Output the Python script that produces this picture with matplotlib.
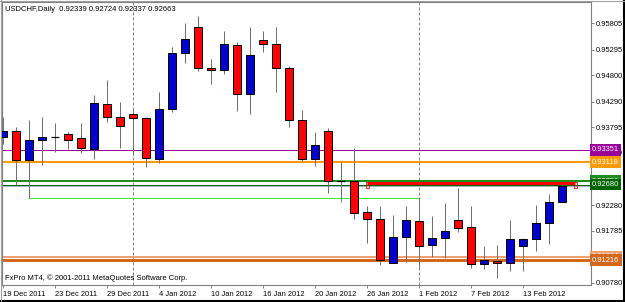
import matplotlib
matplotlib.use('Agg')
import matplotlib.pyplot as plt
from matplotlib.lines import Line2D
from matplotlib.patches import Rectangle

plt.rcParams['font.family'] = ['Liberation Sans', 'DejaVu Sans']

# USDCHF daily bars, 19 Dec 2011 .. 16 Feb 2012
opens = [0.93603, 0.93719, 0.93157, 0.93545, 0.93600, 0.93661, 0.93583, 0.93371,
         0.94242, 0.93990, 0.94048, 0.93971, 0.93176, 0.94145, 0.95230, 0.95733,
         0.94939, 0.94900, 0.95385, 0.94435, 0.95482, 0.95405, 0.94939, 0.93932,
         0.93176, 0.93719, 0.92750, 0.92750, 0.92150, 0.92014, 0.91162, 0.91666,
         0.91975, 0.91511, 0.91646, 0.91994, 0.91859, 0.91142, 0.91201, 0.91162,
         0.91491, 0.91627, 0.91937, 0.92339]
highs = [0.93990, 0.93797, 0.93932, 0.93990, 0.93874, 0.93700, 0.93874, 0.94416,
         0.94707, 0.94281, 0.94145, 0.93990, 0.94474, 0.95346, 0.95811, 0.95946,
         0.95114, 0.95656, 0.95444, 0.95733, 0.95656, 0.95733, 0.94978, 0.94126,
         0.93700, 0.93777, 0.93118, 0.93390, 0.92266, 0.92266, 0.92092, 0.92266,
         0.92440, 0.92072, 0.92324, 0.92615, 0.92266, 0.91491, 0.91511, 0.91994,
         0.91640, 0.92285, 0.92499, 0.92724]
lows = [0.93467, 0.92673, 0.92415, 0.93060, 0.93312, 0.93371, 0.93293, 0.93176,
        0.93894, 0.93390, 0.93254, 0.93022, 0.93099, 0.94087, 0.95036, 0.94881,
        0.94629, 0.94823, 0.94106, 0.94048, 0.95249, 0.94474, 0.93797, 0.93138,
        0.93041, 0.92518, 0.92344, 0.92014, 0.91549, 0.91123, 0.91162, 0.91181,
        0.91084, 0.91278, 0.91259, 0.91763, 0.91065, 0.91046, 0.90872, 0.91007,
        0.91007, 0.91395, 0.91530, 0.92337]
closes = [0.93719, 0.93157, 0.93545, 0.93603, 0.93600, 0.93545, 0.93390, 0.94261,
          0.93990, 0.93816, 0.93971, 0.93196, 0.94145, 0.95230, 0.95501, 0.94939,
          0.94900, 0.95405, 0.94435, 0.95191, 0.95405, 0.94939, 0.93932, 0.93176,
          0.93448, 0.92750, 0.92750, 0.92130, 0.92014, 0.91220, 0.91666, 0.91994,
          0.91491, 0.91646, 0.91782, 0.91840, 0.91142, 0.91220, 0.91162, 0.91627,
          0.91627, 0.91937, 0.92344, 0.92663]

date_labels = ['19 Dec 2011', '23 Dec 2011', '29 Dec 2011', '4 Jan 2012', '10 Jan 2012',
               '16 Jan 2012', '20 Jan 2012', '26 Jan 2012', '1 Feb 2012', '7 Feb 2012',
               '13 Feb 2012']
month_start_bars = [10, 32]   # 2 Jan 2012, 1 Feb 2012

price_ticks = [0.95805, 0.95295, 0.94800, 0.94290, 0.93795, 0.93300, 0.92790,
               0.92280, 0.91785, 0.91290, 0.90780]
hidden_ticks = [0.92790, 0.91290]  # covered by level labels

# horizontal levels drawn on the chart: (price, colour, width in px)
levels = [(0.93351, '#990099', 1), (0.93118, '#FF9900', 2),
          (0.92750, '#1E8C1E', 2), (0.92680, '#006400', 1),
          (0.91284, '#F0A070', 2), (0.91216, '#D2691E', 3)]
red_level = 0.92720
red_from, red_to = 28, 44
lime_from, lime_to = 2, 32

px = 72 / 100  # one pixel in points

fig = plt.figure(figsize=(6.25, 3.02), dpi=100)
fig.patch.set_facecolor('white')
ax = fig.add_axes([2 / 625, 17 / 302, 589 / 625, 283 / 302])
ax.set_facecolor('white')

n = len(opens)

# separators
for b in month_start_bars:
    ax.axvline(b, color='#808080', lw=px, linestyle=(0, (3, 2)), zorder=1)

# horizontal levels
for price, col, w in levels:
    ax.axhline(price, color=col, lw=w * px, zorder=2)
ax.axhline(closes[-1], color='#A8B4BE', lw=px, zorder=2)  # bid line
ax.hlines(lows[lime_from], lime_from, lime_to, color='#33EE33', lw=px, zorder=2)

# candles
for i in range(n):
    o, h, l, c = opens[i], highs[i], lows[i], closes[i]
    ax.vlines(i, l, h, color='#707070', lw=px, zorder=3)
    if abs(c - o) < 1e-6:
        ax.hlines(o, i - 0.31, i + 0.31, color='black', lw=px * 1.2, zorder=4)
    else:
        col = '#0000CC' if c > o else '#FF0000'
        ax.bar(i, abs(c - o), bottom=min(o, c), width=0.62, color=col,
               edgecolor='black', linewidth=0.7, zorder=4)

# red trend line with end markers
ax.hlines(red_level, red_from, red_to, color='#FF0000', lw=3 * px, zorder=5)
for xb in (red_from, red_to):
    ax.add_patch(Rectangle((xb - 0.1, red_level - 0.00098), 0.22, 0.00115,
                           fill=False, edgecolor='#FF0000', lw=0.6, zorder=6))

ax.set_xlim(-0.077, 45.23)
ax.set_ylim(0.907358, 0.962176)

ax.set_xticks(range(0, 4 * len(date_labels), 4))
ax.set_xticklabels(date_labels, ha='left', fontsize=5.4)
ax.yaxis.tick_right()
ax.set_yticks(price_ticks)
ax.set_yticklabels(['' if p in hidden_ticks else f'{p:.5f}' for p in price_ticks],
                   fontsize=5.4)
ax.tick_params(axis='x', direction='out', length=2.5, width=0.7, color='#808080', pad=1.5)
ax.tick_params(axis='y', direction='out', length=2.2, width=0.7, color='#808080', pad=1.5)
for s in ax.spines.values():
    s.set_color('#808080')
    s.set_linewidth(0.8)

# level labels on the price scale
for price, col, w in levels:
    ax.text(1.0015, price, f'{price:.5f}', transform=ax.get_yaxis_transform(),
            ha='left', va='center', fontsize=5.4, color='white', zorder=10,
            clip_on=False,
            bbox=dict(boxstyle='square,pad=0.3', facecolor=col, edgecolor='none'))

# texts
ax.text(0.005, 0.985, 'USDCHF,Daily  0.92339 0.92724 0.92337 0.92663',
        transform=ax.transAxes, ha='left', va='top', fontsize=5.5, color='black')
ax.text(0.005, 0.012, 'FxPro MT4, \u00a9 2001-2011 MetaQuotes Software Corp.',
        transform=ax.transAxes, ha='left', va='bottom', fontsize=5.5, color='black')

# window frame
fig.add_artist(Line2D([623.5 / 625, 623.5 / 625], [0, 1], color='black', lw=1.5))
fig.add_artist(Line2D([0, 1], [1.2 / 302, 1.2 / 302], color='black', lw=1.5))
fig.add_artist(Line2D([0.5 / 625, 0.5 / 625], [0, 1], color='#A0A0A0', lw=0.8))
fig.add_artist(Line2D([0, 1], [301.5 / 302, 301.5 / 302], color='#A0A0A0', lw=0.8))

fig.savefig('out.png', dpi=100)
